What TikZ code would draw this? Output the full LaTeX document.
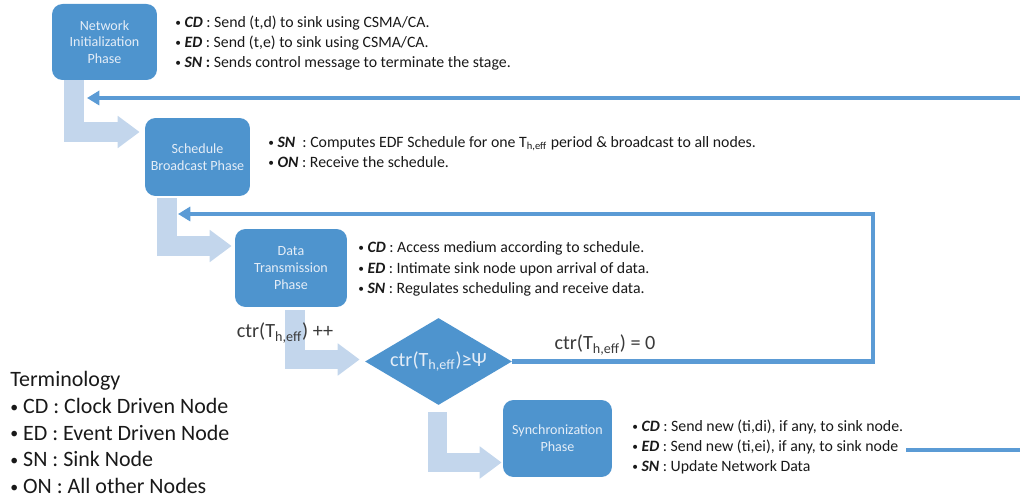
\documentclass[tikz,border=0pt]{standalone}
\usepackage{fontspec}
\setmainfont{Carlito}
\usetikzlibrary{shapes.geometric,arrows.meta,calc,backgrounds}

\definecolor{phaseblue}{HTML}{4E94CE}
\definecolor{lineblue}{HTML}{5B9BD5}
\definecolor{paleblue}{HTML}{C3D6EC}
\definecolor{phasetext}{HTML}{E4EDF7}
\definecolor{labelgrey}{HTML}{3A3A3A}

\newcommand\nrole[1]{\textbf{\textit{#1}}}
\newcommand\theff{T\textsubscript{h,eff}}
\newcommand\sbul{\raisebox{0.12ex}{\scalebox{0.72}{\textbullet}}\ }

\tikzset{
  phase/.style={rectangle, rounded corners=6pt, fill=phaseblue, text=phasetext,
    font=\fontsize{8}{9.5}\selectfont, align=center, inner sep=0pt},
  note/.style={anchor=west, align=left, inner sep=0pt, text=black!90,
    font=\fontsize{9}{11.2}\selectfont},
  ctrlabel/.style={inner sep=0pt, text=labelgrey, font=\fontsize{11.5}{13}\selectfont},
  loopback/.style={line width=2.6pt, draw=lineblue, -{Triangle[length=7pt,width=8pt]}},
  elbow/.style={line width=11.3pt, draw=paleblue, -{Triangle[length=12.5pt,width=17.6pt]}},
}

\begin{document}
\begin{tikzpicture}[x=0.02cm, y=-0.02cm]
  \useasboundingbox (0,0) rectangle (1020,502);

  % phases
  \node[phase, minimum width=2.1cm, minimum height=1.52cm] (init) at (104.5,42)
    {Network\\Initialization\\Phase};
  \node[phase, minimum width=2.1cm, minimum height=1.56cm] (sched) at (197.5,157)
    {Schedule\\Broadcast Phase};
  \node[phase, minimum width=2.24cm, minimum height=1.56cm] (data) at (291,268)
    {Data\\Transmission\\Phase};
  \node[diamond, fill=phaseblue, text=phasetext, aspect=1.7, inner sep=0pt,
    minimum width=2.94cm, minimum height=1.74cm, font=\fontsize{11.5}{13}\selectfont]
    (check) at (438.5,361.5) {ctr(\theff)≥Ψ};
  \node[phase, minimum width=2.18cm, minimum height=1.54cm] (sync) at (557.5,438.5)
    {Synchronization\\Phase};

  % what each node does
  \node[note] (initnote) at (175,43) {%
    \sbul\nrole{CD} : Send (t,d) to sink using CSMA/CA.\\
    \sbul\nrole{ED} : Send (t,e) to sink using CSMA/CA.\\
    \sbul\nrole{SN} \textbf{:} Sends control message to terminate the stage.};
  \node[note] (schednote) at (268,152) {%
    \sbul\nrole{SN}\ \ : Computes EDF Schedule for one \theff\ period \& broadcast to all nodes.\\
    \sbul\nrole{ON} : Receive the schedule.};
  \node[note, font=\fontsize{9}{11.8}\selectfont] (datanote) at (358,269) {%
    \sbul\nrole{CD} : Access medium according to schedule.\\
    \sbul\nrole{ED} : Intimate sink node upon arrival of data.\\
    \sbul\nrole{SN} : Regulates scheduling and receive data.};
  \node[note] (syncnote) at (632,447) {%
    \sbul\nrole{CD} : Send new (ti,di), if any, to sink node.\\
    \sbul\nrole{ED} : Send new (ti,ei), if any, to sink node\\
    \sbul\nrole{SN} : Update Network Data};

  \node[ctrlabel] (incr) at (285,333) {ctr(\theff) ++};
  \node[ctrlabel] (reset) at (605,345) {ctr(\theff) = 0};

  \node[note, font=\fontsize{12.5}{15.2}\selectfont] (terms) at (10,432.5) {%
    Terminology\\
    \sbul CD : Clock Driven Node\\
    \sbul ED : Event Driven Node\\
    \sbul SN : Sink Node\\
    \sbul ON : All other Nodes};

  \coordinate (edgetop) at (1020,98);
  \coordinate (initret) at (87,98);
  \coordinate (loopcorner) at (873,214);
  \coordinate (schedret) at (178,214);
  \coordinate (syncend) at (906,450);
  \coordinate (edgelow) at (1020,450);

  % flow between phases
  \begin{scope}[on background layer]
    \draw[elbow] ($(init.south west)+(22,0)$) |- ($(sched.west)+(-5,-25)$);
    \draw[elbow] ($(sched.south west)+(22.5,2)$) |- ($(data.west)+(-3,-22)$);
    \draw[elbow] ($(data.south)+(4,3)$) |- ($(check.west)+(-5,-2)$);
    \draw[elbow] ($(check.south)+(-1,7)$) |- ($(sync.west)+(-1,24)$);
  \end{scope}

  \draw[loopback] (edgetop) -- (initret);
  \draw[loopback] (check.east) -| (loopcorner) -- (schedret);
  \draw[line width=2.6pt, lineblue] (syncend) -- (edgelow);
\end{tikzpicture}
\end{document}
